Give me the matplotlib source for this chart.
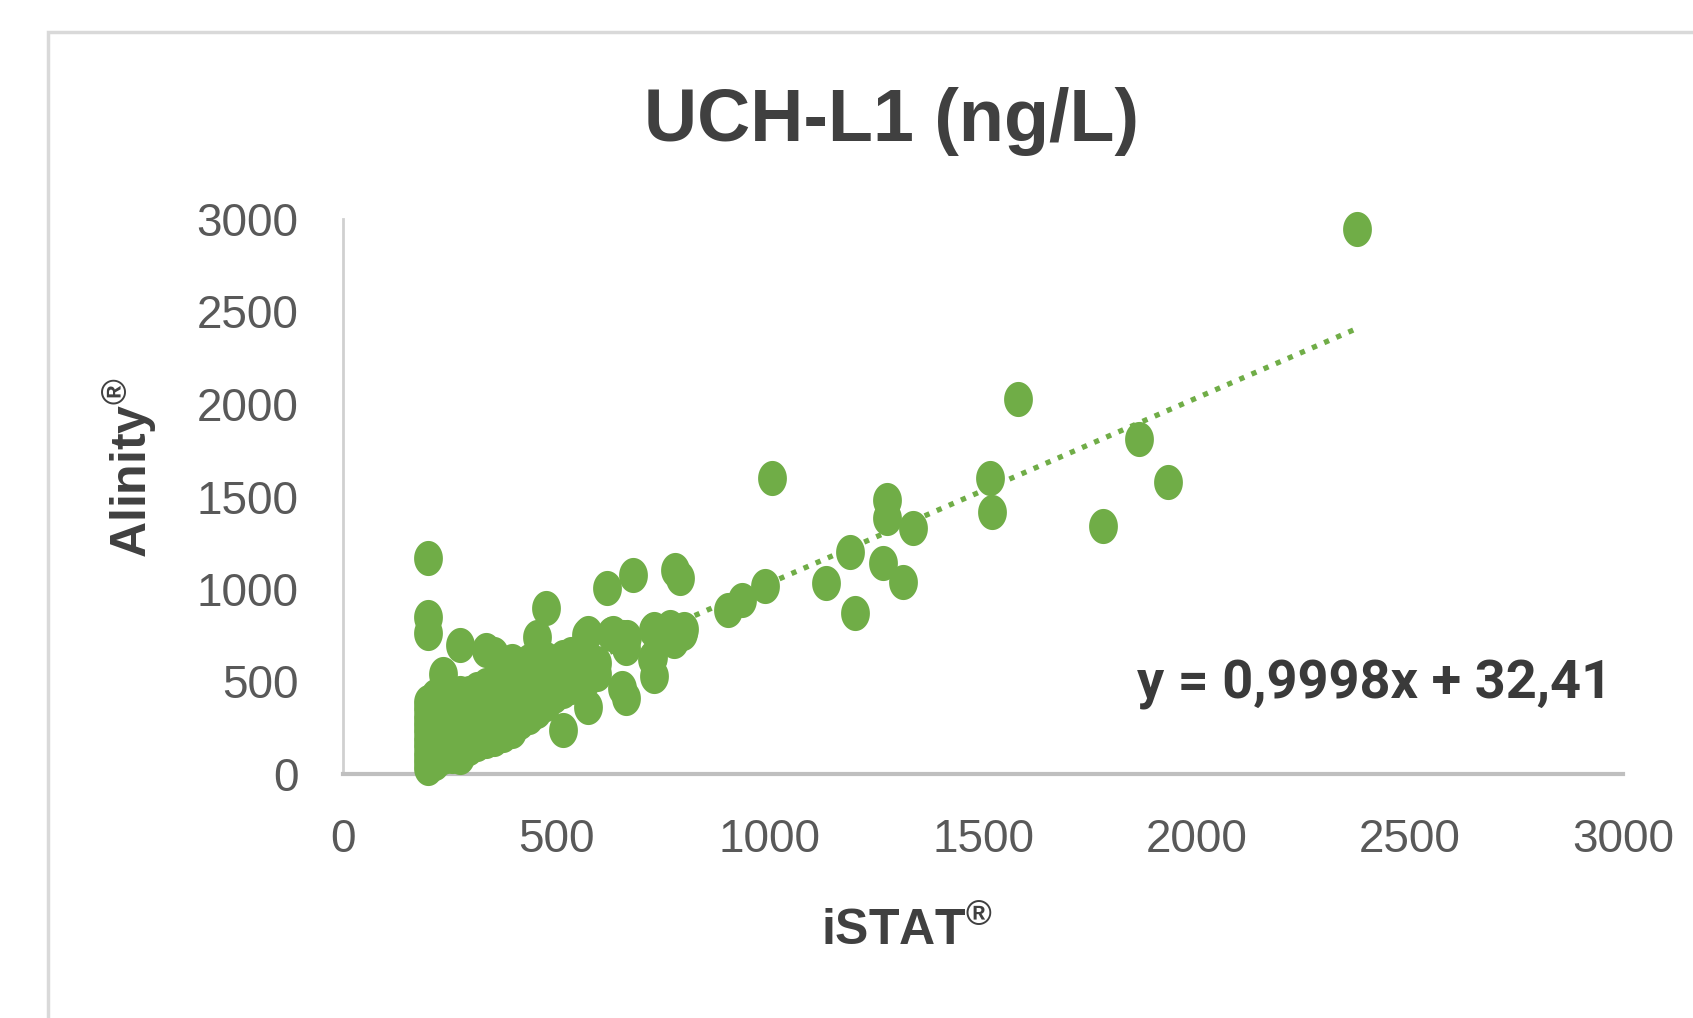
import numpy as np
import matplotlib
matplotlib.use("Agg")
import matplotlib.pyplot as plt
from matplotlib.path import Path
from matplotlib.patches import Rectangle

# ---- data (iSTAT x, Alinity y) ----
istat = [
    # dense cluster
    200, 200, 200, 200, 200, 200, 200, 200, 200, 200,
    215, 215, 215, 215, 215, 215, 215,
    235, 235, 235, 235, 235, 235, 235,
    255, 255, 255, 255, 255, 255,
    275, 275, 275, 275, 275, 275, 275, 275,
    295, 295, 295, 295, 295, 295,
    315, 315, 315, 315, 315, 315,
    335, 335, 335, 335, 335, 335, 335,
    355, 355, 355, 355, 355, 355, 355,
    375, 375, 375, 375, 375, 375, 375,
    395, 395, 395, 395, 395, 395, 395,
    415, 415, 415, 415, 415, 415,
    435, 435, 435, 435, 435, 435,
    455, 455, 455, 455, 455, 455,
    475, 475, 475, 475, 475, 475,
    495, 495, 495, 495,
    515, 515, 515, 515, 515,
    535, 535, 535, 535,
    555, 555, 555,
    575, 575, 575, 575,
    595, 595,
    # mid range
    200, 200, 200, 570, 628, 656, 663, 663, 653, 729, 724, 729, 764, 775, 800,
    633, 665, 727, 766, 797, 727, 619, 680, 778, 790, 902, 935, 989, 1005,
    1132, 1188, 1200, 1266, 1275, 1275, 1313, 1336, 1516, 1521,
    # high range
    1582, 1782, 1866, 1934, 2377,
]
alinity = [
    30, 70, 110, 150, 190, 230, 270, 310, 350, 390,
    60, 120, 180, 240, 300, 360, 420,
    90, 150, 210, 270, 330, 390, 540,
    100, 170, 230, 290, 350, 410,
    90, 150, 220, 280, 340, 400, 440, 700,
    140, 200, 260, 320, 380, 440,
    160, 220, 280, 340, 400, 460,
    180, 240, 300, 360, 420, 480, 670,
    190, 260, 320, 380, 440, 500, 650,
    210, 280, 340, 400, 460, 520, 600,
    230, 300, 360, 420, 480, 540, 610,
    280, 340, 400, 460, 520, 590,
    310, 370, 430, 490, 550, 610,
    340, 400, 460, 520, 580, 740,
    380, 440, 500, 560, 620, 900,
    420, 480, 540, 600,
    450, 510, 570, 630, 240,
    470, 530, 590, 650,
    500, 560, 620,
    520, 580, 760, 360,
    540, 600,
    849, 762, 1167, 753, 759, 741, 683, 409, 467, 531, 619, 782, 770, 718, 782,
    762, 741, 778, 795, 762, 632, 1005, 1076, 1103, 1059, 886, 940, 1016, 1600,
    1032, 1200, 870, 1140, 1481, 1384, 1038, 1330, 1600, 1416,
    2025, 1342, 1809, 1576, 2947,
]
slope, intercept = 0.9998, 32.41
x_ticks = [0, 500, 1000, 1500, 2000, 2500, 3000]
y_ticks = [0, 500, 1000, 1500, 2000, 2500, 3000]
title = "UCH-L1 (ng/L)"
x_label = "iSTAT$^{®}$"
y_label = "Alinity$^{®}$"
equation = "y = 0,9998x + 32,41"

GREEN = "#70AD47"
DARK = "#404040"
TICK = "#595959"
FONT = ["Liberation Sans", "DejaVu Sans"]

plt.rcParams["mathtext.fontset"] = "custom"
plt.rcParams["mathtext.rm"] = "Liberation Sans:bold"
plt.rcParams["mathtext.it"] = "Liberation Sans:bold"
plt.rcParams["mathtext.bf"] = "Liberation Sans:bold"

fig = plt.figure(figsize=(16.93, 10.18), dpi=100)
fig.patch.set_facecolor("white")

# chart area border
fig.patches.append(Rectangle((48 / 1693, -0.1), 1.2, 1.1 - 32 / 1018,
                             transform=fig.transFigure, fill=False,
                             edgecolor="#D9D9D9", linewidth=2.5, zorder=0))

ax = fig.add_axes([343 / 1693, (1018 - 774) / 1018, 1280 / 1693, 555 / 1018])
ax.set_xlim(0, 3000)
ax.set_ylim(0, 3000)

# elliptical marker (picture is squeezed horizontally)
t = np.linspace(0, 2 * np.pi, 60)
ell = Path(np.column_stack([0.82 * np.cos(t), np.sin(t)]), closed=True)

ax.scatter(istat, alinity, s=640, marker=ell, color=GREEN, linewidths=0,
           zorder=3, clip_on=False)

xt = np.array([min(istat), max(istat)])
ax.plot(xt, slope * xt + intercept, color=GREEN, lw=3.8,
        linestyle=(0, (1.0, 1.5)), zorder=2)

for s in ["top", "right"]:
    ax.spines[s].set_visible(False)
ax.spines["bottom"].set_color("#BFBFBF")
ax.spines["bottom"].set_linewidth(3)
ax.spines["left"].set_color("#D0D0D0")
ax.spines["left"].set_linewidth(2)
ax.set_xticks(x_ticks)
ax.set_yticks(y_ticks)
ax.tick_params(length=0, labelsize=33, labelcolor=TICK)
ax.tick_params(axis="x", pad=32)
ax.tick_params(axis="y", pad=32)
for lab in ax.get_xticklabels() + ax.get_yticklabels():
    lab.set_family(FONT)

ax.text(2974, 486, equation, ha="right", va="center", fontsize=39,
        fontweight="bold", color="#3A3A3A", family=["Roboto", "Liberation Sans"])

fig.text(891 / 1693, 1 - 121 / 1018, title, ha="center", va="center",
         fontsize=53, fontweight="bold", color=DARK, family=FONT)
fig.text(907 / 1693, 1 - 931 / 1018, x_label, ha="center", va="center",
         fontsize=36, fontweight="bold", color=DARK, family=FONT)
fig.text(130 / 1693, 1 - 468 / 1018, y_label, ha="center", va="center",
         rotation=90, fontsize=36, fontweight="bold", color=DARK, family=FONT)

fig.savefig("out.png", dpi=100)
